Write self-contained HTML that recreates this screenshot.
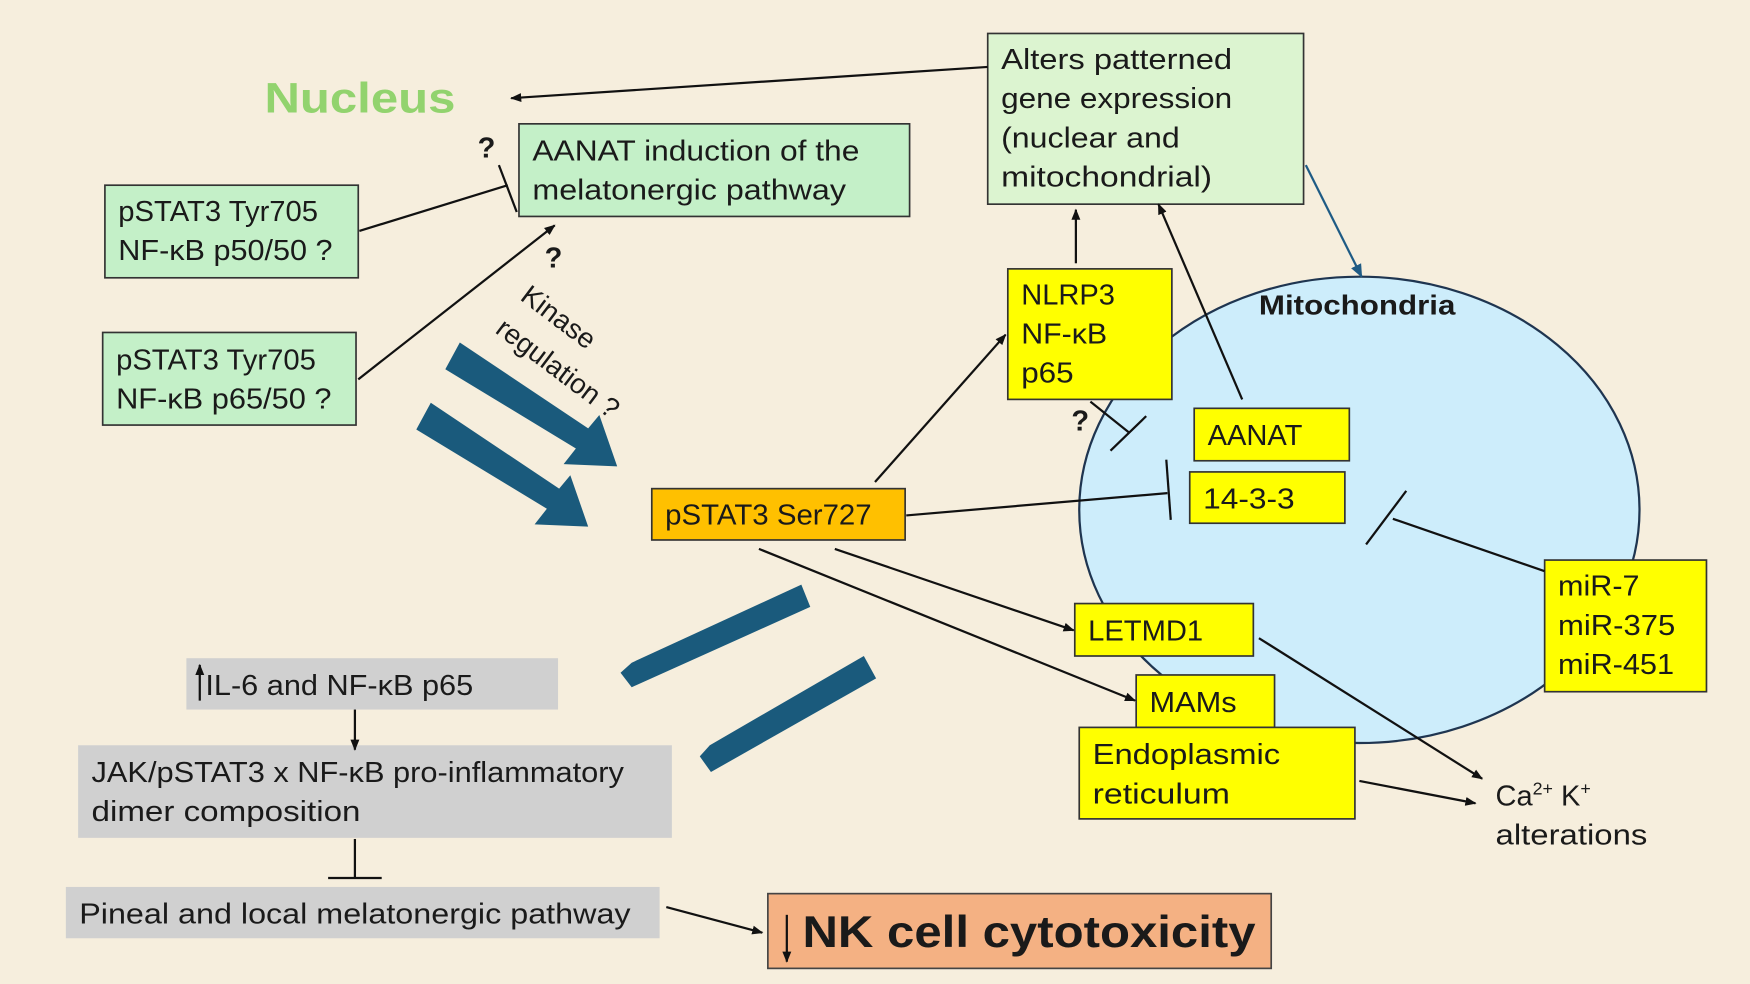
<!DOCTYPE html>
<html><head><meta charset="utf-8"><style>
html,body{margin:0;padding:0;background:#f6eedd;}
svg{display:block}
text{font-family:"Liberation Sans",sans-serif;fill:#1a1a1a;}
</style></head><body>
<svg width="1750" height="984" viewBox="0 0 1568 882" preserveAspectRatio="none" xmlns="http://www.w3.org/2000/svg">
<defs>
<marker id="ah" markerWidth="10" markerHeight="10" refX="9" refY="5" orient="auto" markerUnits="userSpaceOnUse"><path d="M0,1 L10,5 L0,9 z" fill="#111"/></marker>
<marker id="ahb" markerWidth="12" markerHeight="12" refX="11" refY="6" orient="auto" markerUnits="userSpaceOnUse"><path d="M0,1 L12,6 L0,11 z" fill="#1f5b85"/></marker>
</defs>
<rect width="1568" height="882" fill="#f6eedd"/>

<ellipse cx="1218" cy="457" rx="251" ry="209" fill="#cdedfb" stroke="#1f3550" stroke-width="2"/>
<text x="1128" y="282" font-size="25" font-weight="bold" textLength="176" lengthAdjust="spacingAndGlyphs">Mitochondria</text>

<text x="237" y="101" font-size="38" font-weight="bold" style="fill:#92d36e" textLength="171" lengthAdjust="spacingAndGlyphs">Nucleus</text>

<g font-size="26">
<rect x="465" y="111" width="350" height="83" fill="#c4f0c8" stroke="#333" stroke-width="1.5"/>
<text x="477" y="144" textLength="293" lengthAdjust="spacingAndGlyphs">AANAT induction of the</text>
<text x="477" y="179" textLength="281" lengthAdjust="spacingAndGlyphs">melatonergic pathway</text>
<rect x="885" y="30" width="283" height="153" fill="#dcf4d0" stroke="#333" stroke-width="1.5"/>
<text x="897" y="62" textLength="207" lengthAdjust="spacingAndGlyphs">Alters patterned</text>
<text x="897" y="97" textLength="207" lengthAdjust="spacingAndGlyphs">gene expression</text>
<text x="897" y="132" textLength="160" lengthAdjust="spacingAndGlyphs">(nuclear and</text>
<text x="897" y="167" textLength="189" lengthAdjust="spacingAndGlyphs">mitochondrial)</text>
<rect x="94" y="166" width="227" height="83" fill="#c4f0c8" stroke="#333" stroke-width="1.5"/>
<text x="106" y="198" textLength="179" lengthAdjust="spacingAndGlyphs">pSTAT3 Tyr705</text>
<text x="106" y="233" textLength="192" lengthAdjust="spacingAndGlyphs">NF-κB p50/50 ?</text>
<rect x="92" y="298" width="227" height="83" fill="#c4f0c8" stroke="#333" stroke-width="1.5"/>
<text x="104" y="331" textLength="179" lengthAdjust="spacingAndGlyphs">pSTAT3 Tyr705</text>
<text x="104" y="366" textLength="193" lengthAdjust="spacingAndGlyphs">NF-κB p65/50 ?</text>

<rect x="903" y="241" width="147" height="117" fill="#ffff00" stroke="#333" stroke-width="1.5"/>
<text x="915" y="273" textLength="84" lengthAdjust="spacingAndGlyphs">NLRP3</text>
<text x="915" y="308" textLength="77" lengthAdjust="spacingAndGlyphs">NF-κB</text>
<text x="915" y="343" textLength="47" lengthAdjust="spacingAndGlyphs">p65</text>
<rect x="1070" y="366" width="139" height="47" fill="#ffff00" stroke="#333" stroke-width="1.5"/>
<text x="1082" y="399" textLength="85" lengthAdjust="spacingAndGlyphs">AANAT</text>
<rect x="1066" y="423" width="139" height="46" fill="#ffff00" stroke="#333" stroke-width="1.5"/>
<text x="1078" y="456" textLength="82" lengthAdjust="spacingAndGlyphs">14-3-3</text>
<rect x="1384" y="502" width="145" height="118" fill="#ffff00" stroke="#333" stroke-width="1.5"/>
<text x="1396" y="534" textLength="73" lengthAdjust="spacingAndGlyphs">miR-7</text>
<text x="1396" y="569" textLength="105" lengthAdjust="spacingAndGlyphs">miR-375</text>
<text x="1396" y="604" textLength="104" lengthAdjust="spacingAndGlyphs">miR-451</text>
<rect x="963" y="541" width="160" height="47" fill="#ffff00" stroke="#333" stroke-width="1.5"/>
<text x="975" y="574" textLength="103" lengthAdjust="spacingAndGlyphs">LETMD1</text>
<rect x="1018" y="605" width="124" height="47" fill="#ffff00" stroke="#333" stroke-width="1.5"/>
<text x="1030" y="638" textLength="78" lengthAdjust="spacingAndGlyphs">MAMs</text>
<rect x="967" y="652" width="247" height="82" fill="#ffff00" stroke="#333" stroke-width="1.5"/>
<text x="979" y="685" textLength="168" lengthAdjust="spacingAndGlyphs">Endoplasmic</text>
<text x="979" y="720" textLength="123" lengthAdjust="spacingAndGlyphs">reticulum</text>
<rect x="584" y="438" width="227" height="46" fill="#ffc000" stroke="#333" stroke-width="1.5"/>
<text x="596" y="470" textLength="185" lengthAdjust="spacingAndGlyphs">pSTAT3 Ser727</text>

<rect x="167" y="590" width="333" height="46" fill="#d0d0d0"/>
<text x="184" y="623" textLength="240" lengthAdjust="spacingAndGlyphs">IL-6 and NF-κB p65</text>
<rect x="70" y="668" width="532" height="83" fill="#d0d0d0"/>
<text x="82" y="701" textLength="477" lengthAdjust="spacingAndGlyphs">JAK/pSTAT3 x NF-κB pro-inflammatory</text>
<text x="82" y="736" textLength="241" lengthAdjust="spacingAndGlyphs">dimer composition</text>
<rect x="59" y="795" width="532" height="46" fill="#d0d0d0"/>
<text x="71" y="828" textLength="494" lengthAdjust="spacingAndGlyphs">Pineal and local melatonergic pathway</text>

<text x="1340" y="722">Ca<tspan font-size="16" dy="-10">2+</tspan><tspan dy="10"> K</tspan><tspan font-size="16" dy="-10">+</tspan></text>
<text x="1340" y="757" textLength="136" lengthAdjust="spacingAndGlyphs">alterations</text>
</g>
<line x1="179" y1="628" x2="179" y2="596" stroke="#111" stroke-width="2" marker-end="url(#ah)"/>

<rect x="688" y="801" width="451" height="67" fill="#f4b183" stroke="#444" stroke-width="1.5"/>
<text x="719" y="849" font-size="40" font-weight="bold" textLength="406" lengthAdjust="spacingAndGlyphs">NK cell cytotoxicity</text>
<line x1="705" y1="820" x2="705" y2="862" stroke="#111" stroke-width="2" marker-end="url(#ah)"/>

<g fill="#1a5a7c">
<polygon points="399,331 412,307 527,384 537,372 553,418 505,416 516,402"/>
<polygon points="373,385 386,361 501,438 511,426 527,472 479,470 490,456"/>
<polygon points="556,603 566,616 726,544 718,524 566,594"/>
<polygon points="627,678 637,692 785,608 774,588 636,668"/>
</g>

<g stroke="#111" stroke-width="2" fill="none">
<line x1="885" y1="60" x2="458" y2="88" marker-end="url(#ah)"/>
<line x1="322" y1="207" x2="455" y2="166"/>
<line x1="447" y1="148" x2="463" y2="190"/>
<line x1="321" y1="340" x2="497" y2="202" marker-end="url(#ah)"/>
<line x1="964" y1="236" x2="964" y2="188" marker-end="url(#ah)"/>
<line x1="1113" y1="358" x2="1038" y2="183" marker-end="url(#ah)"/>
<line x1="784" y1="432" x2="901" y2="300" marker-end="url(#ah)"/>
<line x1="977" y1="360" x2="1012" y2="388"/>
<line x1="995" y1="404" x2="1027" y2="373"/>
<line x1="812" y1="462" x2="1046" y2="442"/>
<line x1="1045" y1="412" x2="1049" y2="466"/>
<line x1="1384" y1="512" x2="1248" y2="465"/>
<line x1="1224" y1="488" x2="1260" y2="440"/>
<line x1="748" y1="492" x2="962" y2="565" marker-end="url(#ah)"/>
<line x1="680" y1="492" x2="1017" y2="628" marker-end="url(#ah)"/>
<line x1="1128" y1="572" x2="1328" y2="698" marker-end="url(#ah)"/>
<line x1="1218" y1="700" x2="1322" y2="720" marker-end="url(#ah)"/>
<line x1="318" y1="636" x2="318" y2="672" marker-end="url(#ah)"/>
<line x1="318" y1="752" x2="318" y2="787"/>
<line x1="294" y1="787" x2="342" y2="787"/>
<line x1="597" y1="813" x2="683" y2="836" marker-end="url(#ah)"/>
</g>
<line x1="1170" y1="148" x2="1220" y2="248" stroke="#1f5b85" stroke-width="2" marker-end="url(#ahb)"/>

<text x="428" y="141" font-size="26" font-weight="bold">?</text>
<text x="488" y="240" font-size="26" font-weight="bold">?</text>
<text x="960" y="386" font-size="26" font-weight="bold">?</text>
<text font-size="25" transform="translate(465,268) rotate(37)"><tspan x="0" y="0">Kinase</tspan><tspan x="0" y="37">regulation ?</tspan></text>
</svg>
</body></html>
